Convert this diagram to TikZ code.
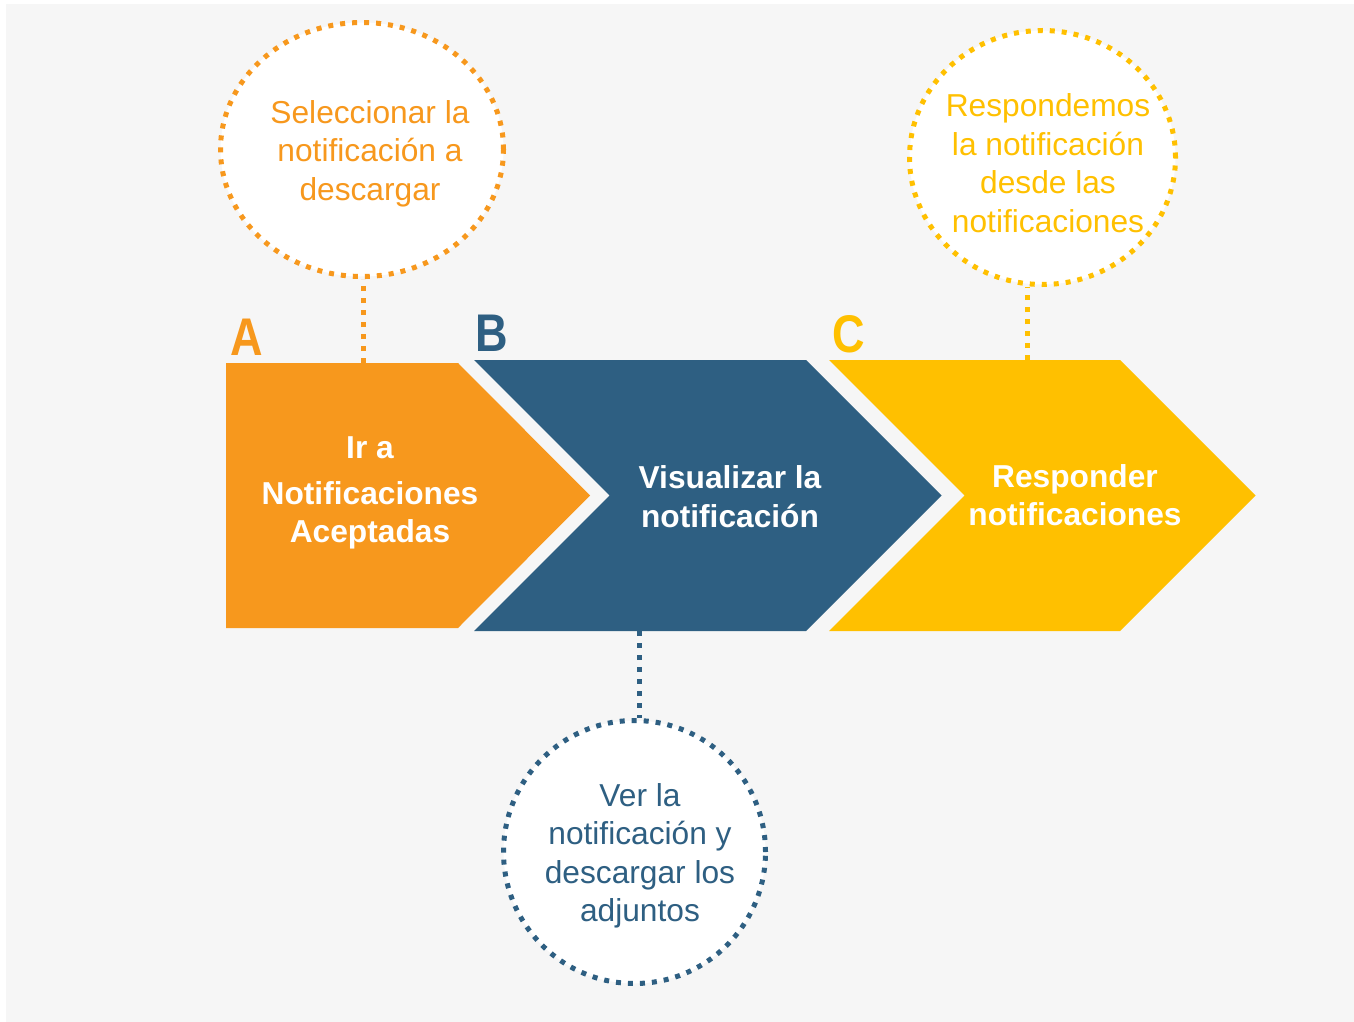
\documentclass[tikz,border=0pt]{standalone}
\usepackage{fontspec}
\setmainfont{Liberation Sans}
\usetikzlibrary{shapes.geometric}
\definecolor{naranja}{HTML}{F7981D}
\definecolor{azul}{HTML}{2E5F82}
\definecolor{amarillo}{HTML}{FFC000}
\definecolor{fondo}{HTML}{F6F6F6}
\newcommand{\txtsize}{\fontsize{31.7pt}{38.5pt}\selectfont}

\begin{document}
\begin{tikzpicture}[x=1pt, y=-1pt,
	bubble/.style={ellipse, draw, fill=white, line width=5pt,
		dash pattern=on 5pt off 7pt, inner sep=0pt},
	link/.style={line width=5pt, dash pattern=on 5pt off 7pt},
	steptext/.style={text=white, font=\txtsize\bfseries, align=center},
	bubbletext/.style={font=\txtsize, align=center},
	letter/.style={font=\fontsize{53pt}{53pt}\selectfont\bfseries, anchor=base, inner sep=0pt}
	]
	\useasboundingbox (0,0) rectangle (1354,1022);
	\fill[fondo] (6,4) rectangle (1354,1022);
	
	% pasos
	\fill[naranja] (226,363) -- (458,363) -- (590,495.5) -- (458,628) -- (226,628) -- cycle;
	\fill[azul] (474,360) -- (806,360) -- (941.5,495.5) -- (806,631) -- (474,631) -- (609.5,495.5) -- cycle;
	\fill[amarillo] (829,360) -- (1120,360) -- (1255.5,495.5) -- (1120,631) -- (829,631) -- (964.5,495.5) -- cycle;
	
	\node[steptext] (pasoA) at (370,493) {Ir a\\[7pt]Notificaciones\\Aceptadas};
	\node[steptext] (pasoB) at (730,496.5) {Visualizar la\\notificación};
	\node[steptext] (pasoC) at (1075,495) {Responder\\notificaciones};
	
	\node[letter, text=naranja] (letraA) at (246.5,355) {\scalebox{0.85}[1]{A}};
	\node[letter, text=azul] (letraB) at (492,351) {\scalebox{0.85}[1]{B}};
	\node[letter, text=amarillo] (letraC) at (849,352) {\scalebox{0.85}[1]{C}};
	
	% burbujas
	\node[bubble, draw=naranja, minimum width=283pt, minimum height=254pt] (circA) at (362,149.5) {};
	\node[bubble, draw=azul, minimum width=262pt, minimum height=263pt] (circB) at (634.5,852) {};
	\node[bubble, draw=amarillo, minimum width=266pt, minimum height=254pt] (circC) at (1042.5,157.5) {};
	
	\coordinate (topA) at (363,363);
	\coordinate (botB) at (639,631);
	\coordinate (topC) at (1027,360);
	
	\draw[link, naranja] (topA) -- (topA |- circA.south);
	\draw[link, azul] (botB) -- (botB |- circB.north);
	\draw[link, amarillo] (topC) -- (topC |- circC.south);
	
	\node[bubbletext, text=naranja] (textoA) at (370,153.5) {Seleccionar la\\notificación a\\descargar};
	\node[bubbletext, text=azul] (textoB) at (640,856) {Ver la\\notificación y\\descargar los\\adjuntos};
	\node[bubbletext, text=amarillo] (textoC) at (1048,163) {Respondemos\\la notificación\\desde las\\notificaciones};
\end{tikzpicture}
\end{document}
